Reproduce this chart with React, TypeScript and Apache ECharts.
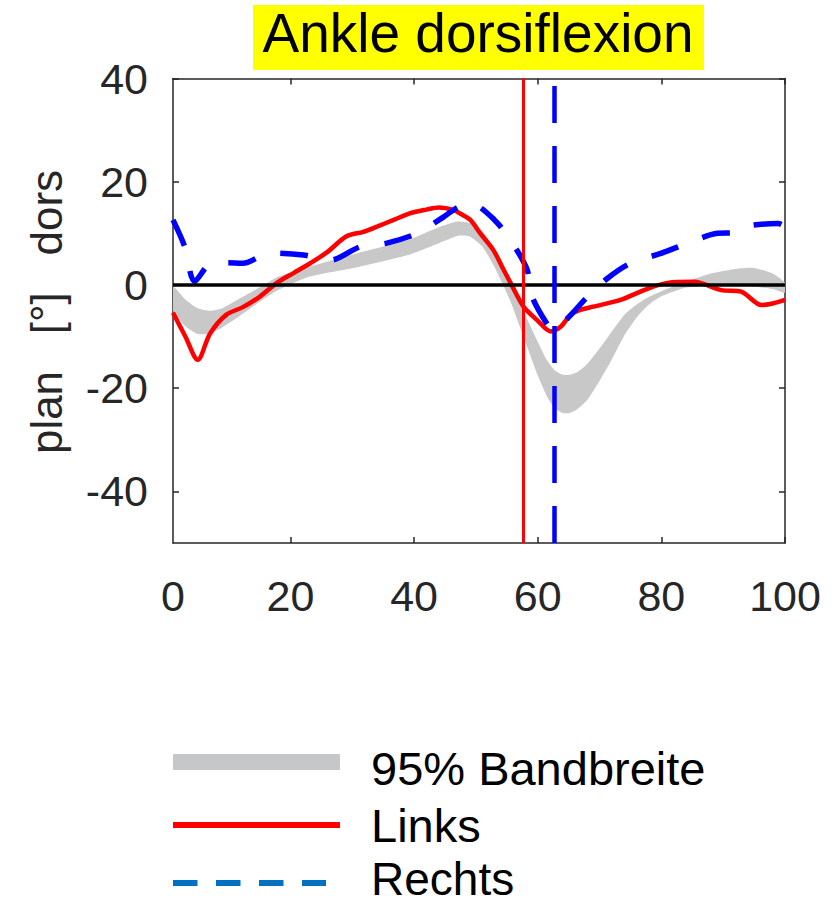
import React, { useEffect, useRef } from "react";
import * as echarts from "echarts";

// ---- data ----
const X_TICKS = [20, 40, 60, 80, 100];
const X_LABELS = [1, 20, 40, 60, 80, 100];
const Y_TICKS = [-40, -20, 0, 20, 40];

const BAND_X = [1, 3, 5, 7, 9, 12, 15, 18, 23, 31, 39, 44, 47, 49, 51, 53, 55.5, 58, 60, 61.5, 62.8, 64, 65.2, 66.5, 68, 70, 72, 74, 76, 78, 80, 84, 88, 92, 95, 98, 100];
const BAND_UPPER = [-0.3, -2.8, -4.5, -5.0, -4.5, -2.5, -0.5, 1.6, 3.5, 6.2, 8.7, 11.2, 12.3, 12.0, 10.5, 6.8, 0.6, -5.8, -11.0, -14.6, -16.6, -17.4, -17.4, -16.8, -15.3, -12.3, -9.0, -5.8, -3.8, -2.3, -1.2, 0.6, 2.2, 3.1, 3.3, 2.2, 0.4];
const BAND_LOWER = [-5.0, -8.0, -9.5, -9.4, -8.2, -5.8, -3.3, -1.0, 1.6, 3.5, 5.8, 8.1, 9.5, 9.4, 7.5, 3.5, -2.9, -11.0, -17.5, -21.6, -23.9, -24.8, -24.8, -24.0, -22.3, -18.6, -14.4, -9.8, -6.3, -3.8, -2.2, -0.5, -0.2, 0.1, -0.3, -0.8, -1.5];

const LINKS_X = [1, 3, 5, 7, 9.6, 12.3, 15, 17.8, 20.5, 23.2, 26, 29, 31.8, 34, 36.7, 39.4, 42, 44, 46.4, 47.5, 49.1, 50.7, 52.8, 54.5, 55.6, 57.7, 59.9, 62.1, 63.7, 65.3, 67, 69, 73.4, 77.2, 81, 85.3, 89.7, 92.9, 96.2, 98, 100];
const LINKS_Y = [-5.4, -10, -14.5, -9.4, -5.8, -4.3, -2.3, 0.4, 2.3, 4.2, 6.4, 9.4, 10.3, 11.3, 12.6, 13.9, 14.6, 15.0, 14.5, 13.8, 12.6, 10, 6.8, 2.9, 0.4, -4.2, -6.8, -9, -8.1, -5.8, -4.8, -4.2, -2.9, -1, 0.4, 0.6, -1, -1.3, -3.9, -3.6, -2.9];

const RECHTS_X = [1, 2.9, 4.5, 7.2, 9.5, 12.3, 16.7, 22.1, 26.4, 31.3, 35.6, 40.5, 44.8, 47, 49.1, 53, 55.9, 58.3, 59.1, 61.8, 62.6, 64.8, 67.8, 71.3, 75, 79.9, 84.3, 89.1, 91.8, 93.4, 98.9, 100];
const RECHTS_Y = [12.6, 7.4, 0.7, 4.2, 4.3, 4.2, 6.2, 5.8, 4.8, 7.4, 8.1, 10, 13.2, 15.0, 15.8, 12.6, 8.1, 2.9, -2.3, -8.1, -8.7, -6.5, -2.6, 1.3, 4.2, 6.1, 8.1, 10, 10.1, 11.3, 11.9, 11.3];

const TOE_OFF_LINKS = 57.6;
const TOE_OFF_RECHTS = 62.7;

const LEGEND_LABELS = ["95% Bandbreite", "Links", "Rechts"];
const TITLE = "Ankle dorsiflexion";
const Y_NAME = "plan   [°]   dors";

const FONT = "'Liberation Sans', Arial, Helvetica, sans-serif";
const AXIS_COLOR = "#262626";

const pairs = (xs: number[], ys: number[]) => xs.map((x, i) => [x, ys[i]]);

export default function App() {
  const ref = useRef<HTMLDivElement>(null);

  useEffect(() => {
    if (!ref.current) return;
    const chart = echarts.init(ref.current, null, { renderer: "svg" });

    const axisLineStyle = { color: AXIS_COLOR, width: 1.5 };
    const bandData = BAND_X.map((x, i) => [x, BAND_LOWER[i], BAND_UPPER[i]]);

    const option: any = {
      animation: false,
      backgroundColor: "#ffffff",
      textStyle: { fontFamily: FONT },
      grid: {
        left: 173,
        top: 78.5,
        right: 50,
        bottom: 358,
        containLabel: false,
        outerBoundsMode: "none",
      },
      xAxis: [
        {
          type: "value",
          min: 1,
          max: 100,
          position: "bottom",
          axisLine: { show: true, onZero: false, lineStyle: axisLineStyle },
          axisTick: { show: true, inside: true, length: 6, lineStyle: axisLineStyle, customValues: X_TICKS },
          axisLabel: {
            show: true,
            customValues: X_LABELS,
            formatter: (v: number) => (v === 1 ? "0" : String(v)),
            fontSize: 43,
            fontFamily: FONT,
            color: AXIS_COLOR,
            margin: 31,
          },
          splitLine: { show: false },
        },
        {
          type: "value",
          min: 1,
          max: 100,
          position: "top",
          axisLine: { show: true, onZero: false, lineStyle: axisLineStyle },
          axisTick: { show: true, inside: true, length: 6, lineStyle: axisLineStyle, customValues: X_TICKS },
          axisLabel: { show: false },
          splitLine: { show: false },
        },
      ],
      yAxis: [
        {
          type: "value",
          min: -50,
          max: 40,
          position: "left",
          axisLine: { show: true, onZero: false, lineStyle: axisLineStyle },
          axisTick: { show: true, inside: true, length: 6, lineStyle: axisLineStyle, customValues: Y_TICKS },
          axisLabel: {
            show: true,
            customValues: Y_TICKS,
            fontSize: 43,
            fontFamily: FONT,
            color: AXIS_COLOR,
            margin: 25,
            padding: [11, 0, 0, 0],
          },
          splitLine: { show: false },
        },
        {
          type: "value",
          min: -50,
          max: 40,
          position: "right",
          axisLine: { show: true, onZero: false, lineStyle: axisLineStyle },
          axisTick: { show: true, inside: true, length: 6, lineStyle: axisLineStyle, customValues: Y_TICKS },
          axisLabel: { show: false },
          splitLine: { show: false },
        },
      ],
      series: [
        {
          name: LEGEND_LABELS[0],
          type: "custom",
          data: bandData,
          encode: { x: 0, y: [1, 2] },
          silent: true,
          z: 1,
          clip: true,
          renderItem: (params: any, api: any) => {
            if (params.dataIndex !== 0) return null;
            const upper = BAND_X.map((x, i) => api.coord([x, BAND_UPPER[i]]));
            const lower = BAND_X.map((x, i) => api.coord([x, BAND_LOWER[i]])).reverse();
            return {
              type: "polygon",
              shape: { points: upper.concat(lower), smooth: 0.2 },
              style: { fill: "#c8c8c8", stroke: "none" },
            };
          },
          markLine: {
            silent: true,
            symbol: ["none", "none"],
            label: { show: false },
            lineStyle: { color: "#000000", width: 3.5, type: "solid" },
            data: [{ yAxis: 0 }],
          },
        },
        {
          name: LEGEND_LABELS[1],
          type: "line",
          data: pairs(LINKS_X, LINKS_Y),
          symbol: "none",
          showSymbol: false,
          smooth: 0.3,
          lineStyle: { color: "#ff0000", width: 4.5 },
          z: 3,
          markLine: {
            silent: true,
            symbol: ["none", "none"],
            label: { show: false },
            lineStyle: { color: "#ff0000", width: 3, type: "solid" },
            data: [{ xAxis: TOE_OFF_LINKS }],
          },
        },
        {
          name: LEGEND_LABELS[2],
          type: "line",
          data: pairs(RECHTS_X, RECHTS_Y),
          symbol: "none",
          showSymbol: false,
          smooth: 0.3,
          lineStyle: { color: "#0000ff", width: 5.5, type: [28, 26] },
          z: 4,
          markLine: {
            silent: true,
            symbol: ["none", "none"],
            label: { show: false },
            lineStyle: { color: "#0000ff", width: 4.5, type: [37, 23] },
            data: [{ xAxis: TOE_OFF_RECHTS }],
          },
        },
      ],
      graphic: [
        {
          type: "rect",
          shape: { x: 253, y: 5, width: 451, height: 65 },
          style: { fill: "#ffff00" },
          silent: true,
        },
        {
          type: "text",
          x: 478,
          y: 33,
          style: {
            text: TITLE,
            fontSize: 55,
            fontFamily: FONT,
            fill: "#000000",
            align: "center",
            verticalAlign: "middle",
          },
          silent: true,
        },
        {
          type: "text",
          x: 46.5,
          y: 312,
          rotation: Math.PI / 2,
          style: {
            text: Y_NAME,
            fontSize: 44,
            fontFamily: FONT,
            fill: AXIS_COLOR,
            align: "center",
            verticalAlign: "middle",
          },
          silent: true,
        },
        // legend
        {
          type: "rect",
          shape: { x: 173, y: 754, width: 167, height: 16 },
          style: { fill: "#c6c7c9" },
          silent: true,
        },
        {
          type: "rect",
          shape: { x: 173, y: 822, width: 167, height: 6 },
          style: { fill: "#ff0000" },
          silent: true,
        },
        {
          type: "line",
          shape: { x1: 173, y1: 883, x2: 326, y2: 883 },
          style: { stroke: "#0070c0", lineWidth: 6, lineDash: [24.5, 18.5] },
          silent: true,
        },
        {
          type: "text",
          x: 371,
          y: 768,
          style: { text: LEGEND_LABELS[0], fontSize: 47, lineHeight: 36, fontFamily: FONT, fill: "#000000", align: "left", verticalAlign: "middle" },
          silent: true,
        },
        {
          type: "text",
          x: 371,
          y: 825,
          style: { text: LEGEND_LABELS[1], fontSize: 47, lineHeight: 36, fontFamily: FONT, fill: "#000000", align: "left", verticalAlign: "middle" },
          silent: true,
        },
        {
          type: "text",
          x: 371,
          y: 879,
          style: { text: LEGEND_LABELS[2], fontSize: 46, lineHeight: 36, fontFamily: FONT, fill: "#000000", align: "left", verticalAlign: "middle" },
          silent: true,
        },
      ],
    };

    chart.setOption(option);
    return () => chart.dispose();
  }, []);

  return (
    <div
      ref={ref}
      style={{ position: "fixed", left: 0, top: 0, width: 835, height: 901, background: "#ffffff" }}
    />
  );
}
